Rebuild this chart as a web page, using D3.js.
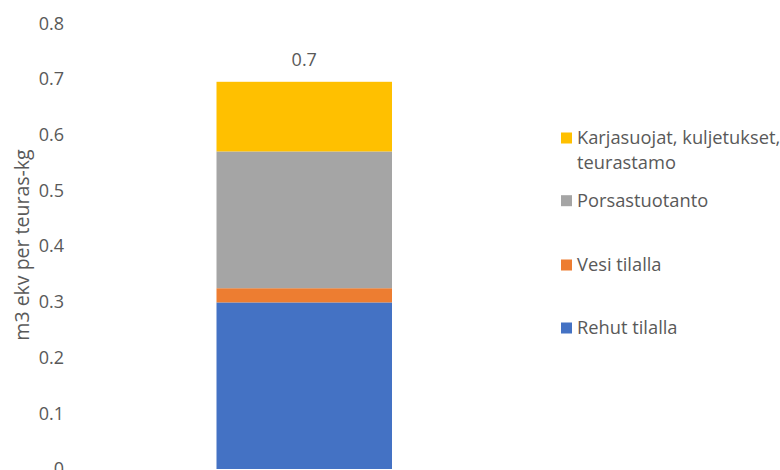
<!DOCTYPE html>
<html><head><meta charset="utf-8">
<script src="https://cdn.jsdelivr.net/npm/d3@7"></script>
<style>body{margin:0;background:#fff}svg{display:block}text{font-family:"Open Sans",sans-serif;fill:#595959}</style>
</head><body><svg id="c" width="780" height="470"></svg>
<script>
const categories = ["Sika"];
const seriesNames = ["Rehut tilalla","Vesi tilalla","Porsastuotanto","Karjasuojat, kuljetukset, teurastamo"];
const seriesValues = [[0.299],[0.0255],[0.2455],[0.125]];
const seriesColors = ["#4472C4","#ED7D31","#A5A5A5","#FFC000"];
const yTicks = [0,0.1,0.2,0.3,0.4,0.5,0.6,0.7,0.8];
const totalLabel = "0.7";
const yTitle = "m3 ekv per teuras-kg";
const FS = "17.5px";

const svg = d3.select("#c");
const y = d3.scaleLinear().domain([0,0.8]).range([469,23.3]);
const x = d3.scaleBand().domain(categories).range([216.5,392]).padding(0);

const rows = categories.map((c,i)=>{const r={cat:c}; seriesNames.forEach((s,j)=>r[s]=seriesValues[j][i]); return r;});
const stacked = d3.stack().keys(seriesNames)(rows);

svg.append("g").selectAll("g").data(stacked).join("g")
  .attr("fill",(d,i)=>seriesColors[i])
  .selectAll("rect").data(d=>d).join("rect")
  .attr("x",d=>x(d.data.cat)).attr("width",x.bandwidth())
  .attr("y",d=>y(d[1])).attr("height",d=>y(d[0])-y(d[1]));

const ax = svg.append("g").attr("transform","translate(64,0)")
  .call(d3.axisLeft(y).tickValues(yTicks).tickFormat(d=>d===0?"0":d3.format(".1f")(d)).tickSize(0).tickPadding(0));
ax.select(".domain").remove();
ax.selectAll("text").style("font-size","18px").attr("fill","#595959").style("font-family","'Open Sans',sans-serif");

svg.append("text").attr("transform","translate(22,245) rotate(-90)").attr("text-anchor","middle").attr("dy","0.35em")
  .style("font-size","19.5px").text(yTitle);

categories.forEach((c,i)=>{
  const tot = d3.sum(seriesValues,s=>s[i]);
  svg.append("text").attr("x",x(c)+x.bandwidth()/2).attr("y",y(tot)-22).attr("text-anchor","middle").attr("dy","0.35em")
    .style("font-size","18px").text(totalLabel);
});

const legendY = [138,200.7,265,328];
const lg = svg.append("g");
seriesNames.forEach((s,j)=>{
  const yy = legendY[3-j];
  lg.append("rect").attr("x",561).attr("y",yy-5.5).attr("width",11).attr("height",11).attr("fill",seriesColors[j]);
  const t = lg.append("text").attr("x",577).attr("y",yy).attr("dy","0.35em").style("font-size","18.3px");
  if (s.startsWith("Karjasuojat")) {
    t.append("tspan").attr("x",577).text("Karjasuojat, kuljetukset,");
    t.append("tspan").attr("x",577).attr("dy",25).text("teurastamo");
  } else t.text(s);
});
</script></body></html>
